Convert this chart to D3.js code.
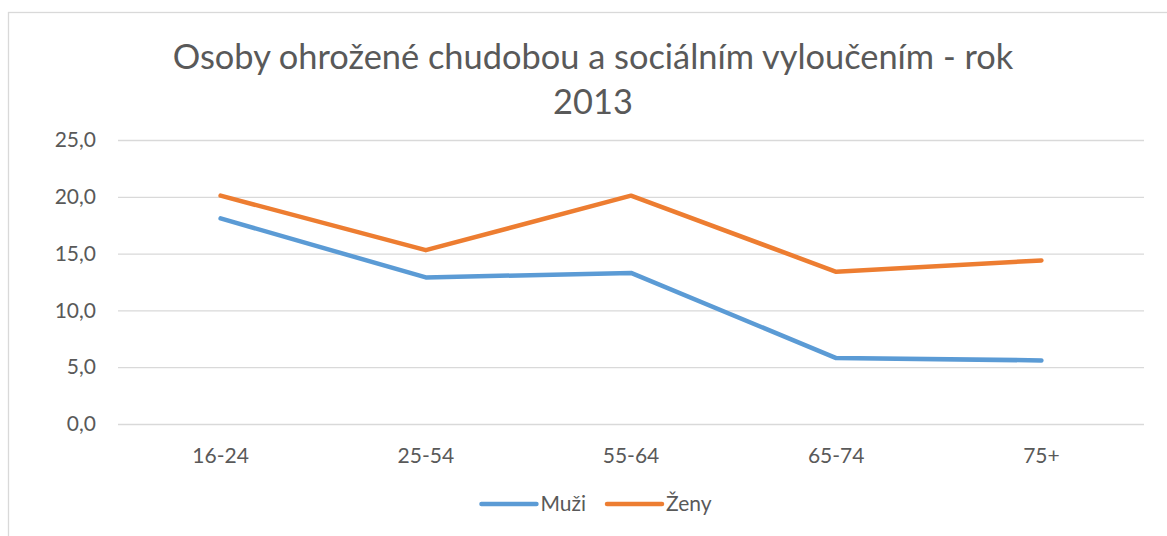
<!DOCTYPE html>
<html>
<head>
<meta charset="utf-8">
<script src="https://cdn.jsdelivr.net/npm/d3@7"></script>
<style>
  html, body { margin: 0; padding: 0; background: #fff; }
</style>
</head>
<body>
<script>
// data
const categories = ["16-24", "25-54", "55-64", "65-74", "75+"];
const muzi = [18.1, 12.9, 13.3, 5.8, 5.6];
const zeny = [20.1, 15.3, 20.1, 13.4, 14.4];
const seriesNames = ["Muži", "Ženy"];
const seriesColors = ["#5b9bd5", "#ed7d31"];
const yTicks = [0, 5, 10, 15, 20, 25];
const titleLines = ["Osoby ohrožené chudobou a sociálním vyloučením - rok", "2013"];

const width = 1167;
const height = 536;
const font = "Lato, 'Open Sans', sans-serif";
const textColor = "#595959";

const czech = d3.formatLocale({ decimal: ",", thousands: " ", grouping: [3], currency: ["", " Kč"] });
const fmt = czech.format(".1f");

const x = d3.scaleBand()
    .domain(categories)
    .range([118, 1144]);

const y = d3.scaleLinear()
    .domain([0, 25])
    .range([424, 140]);

const svg = d3.select("body").append("svg")
    .attr("width", width)
    .attr("height", height)
    .style("font-family", font);

// chart area frame (runs off the right/bottom edge in the reference)
svg.append("rect")
    .attr("x", 8.5)
    .attr("y", 12.5)
    .attr("width", 1300)
    .attr("height", 700)
    .attr("fill", "#fff")
    .attr("stroke", "#d9d9d9")
    .attr("stroke-width", 1.3);

// title, fitted to the width it has in the reference
const title = svg.append("g")
    .attr("fill", textColor)
    .attr("text-anchor", "middle");

const t1 = title.append("text")
    .attr("x", 593)
    .attr("y", 69)
    .style("font-size", "32px")
    .text(titleLines[0]);
const fit = 841 / t1.node().getComputedTextLength();
const titleSize = 32 * fit;
t1.style("font-size", titleSize + "px");

title.append("text")
    .attr("x", 593)
    .attr("y", 114)
    .style("font-size", titleSize + "px")
    .text(titleLines[1]);

// y axis with gridlines
svg.append("g")
    .attr("transform", `translate(${x.range()[0]},0)`)
    .call(d3.axisLeft(y)
        .tickValues(yTicks)
        .tickFormat(fmt)
        .tickSize(-(x.range()[1] - x.range()[0]))
        .tickPadding(22))
    .call(g => g.select(".domain").remove())
    .call(g => g.selectAll(".tick line")
        .attr("stroke", "#d9d9d9")
        .attr("stroke-width", 1.3))
    .call(g => g.selectAll(".tick text")
        .attr("fill", textColor)
        .style("font-family", font)
        .style("font-size", "21px"));

// x axis labels
svg.append("g")
    .attr("transform", `translate(0,${y(0)})`)
    .call(d3.axisBottom(x)
        .tickSize(0)
        .tickPadding(24))
    .call(g => g.select(".domain").remove())
    .call(g => g.selectAll(".tick text")
        .attr("fill", textColor)
        .style("font-family", font)
        .style("font-size", "21px"));

// lines
const line = d3.line()
    .x((d, i) => x(categories[i]) + x.bandwidth() / 2)
    .y(d => y(d));

svg.append("g")
    .selectAll("path")
    .data([muzi, zeny])
    .join("path")
    .attr("d", line)
    .attr("fill", "none")
    .attr("stroke", (d, i) => seriesColors[i])
    .attr("stroke-width", 4.5)
    .attr("stroke-linecap", "round")
    .attr("stroke-linejoin", "round");

// legend
const legend = svg.append("g")
    .style("font-size", "21px")
    .attr("fill", textColor);

const item = legend.selectAll("g")
    .data(seriesNames)
    .join("g");

item.append("line")
    .attr("x1", 0)
    .attr("x2", 55)
    .attr("y1", 0)
    .attr("y2", 0)
    .attr("stroke", (d, i) => seriesColors[i])
    .attr("stroke-width", 4.5)
    .attr("stroke-linecap", "round");

item.append("text")
    .attr("x", 59)
    .attr("dy", "0.35em")
    .text(d => d);

let offset = 0;
item.each(function () {
    const w = 59 + d3.select(this).select("text").node().getComputedTextLength();
    d3.select(this).attr("transform", `translate(${offset},0)`);
    offset += w + 21;
});
const legendWidth = offset - 21;
legend.attr("transform", `translate(${596.5 - legendWidth / 2},504)`);
</script>
</body>
</html>
